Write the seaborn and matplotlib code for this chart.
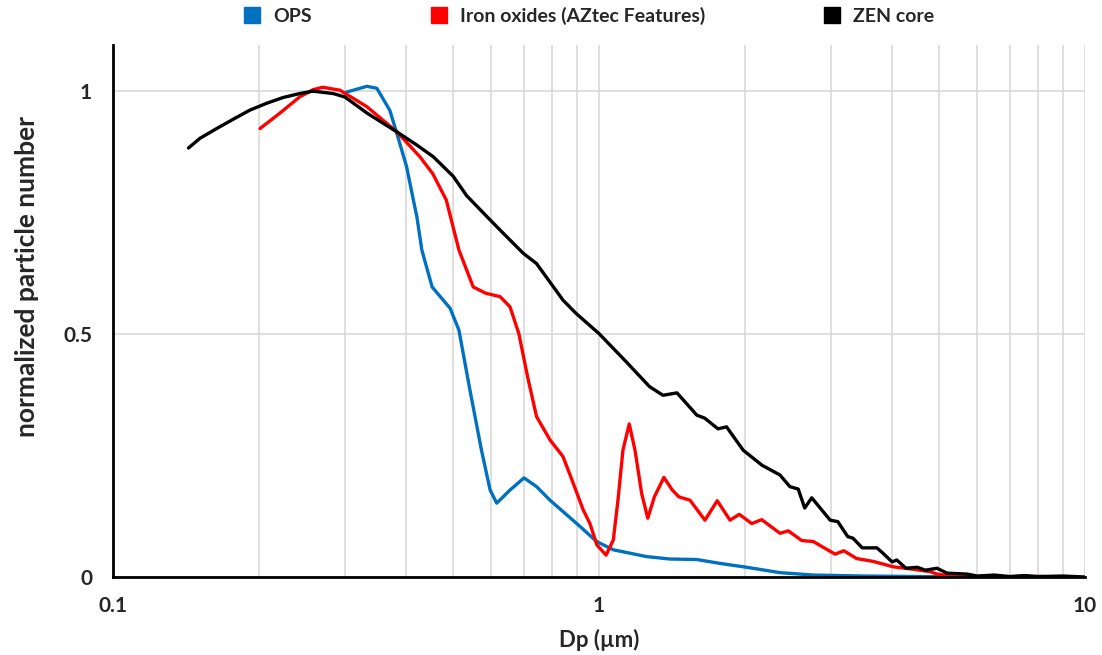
import numpy as np
import pandas as pd
import matplotlib
matplotlib.use("Agg")
import matplotlib.pyplot as plt
import seaborn as sns
from matplotlib.lines import Line2D
from matplotlib.ticker import LogLocator, NullFormatter, FixedLocator

# ---------------- data ----------------
ops_x = [0.300, 0.333, 0.349, 0.371, 0.383, 0.402, 0.415, 0.422, 0.432, 0.4535,
         0.494, 0.515, 0.5425, 0.573, 0.597, 0.616, 0.656, 0.701, 0.744, 0.793,
         0.914, 0.989, 1.070, 1.253, 1.400, 1.589, 1.774, 2.013, 2.357, 2.760,
         3.500, 4.500, 6.000]
ops_y = [0.997, 1.010, 1.006, 0.961, 0.916, 0.844, 0.776, 0.741, 0.673, 0.597,
         0.553, 0.508, 0.385, 0.261, 0.179, 0.152, 0.179, 0.204, 0.186, 0.158,
         0.104, 0.073, 0.056, 0.042, 0.037, 0.036, 0.028, 0.020, 0.009, 0.004,
         0.002, 0.001, 0.000]

iron_x = [0.2007, 0.220, 0.242, 0.258, 0.270, 0.293, 0.333, 0.384, 0.428, 0.455,
          0.485, 0.515, 0.551, 0.585, 0.626, 0.656, 0.684, 0.713, 0.744, 0.793,
          0.843, 0.885, 0.928, 0.958, 0.990, 1.034, 1.070, 1.094, 1.120, 1.154,
          1.186, 1.224, 1.260, 1.300, 1.360, 1.415, 1.460, 1.539, 1.652, 1.751,
          1.860, 1.944, 2.062, 2.162, 2.357, 2.452, 2.613, 2.760, 3.060, 3.190,
          3.390, 3.670, 4.030, 4.430, 4.800, 4.960, 5.270, 6.000, 7.000, 8.000,
          9.000]
iron_y = [0.923, 0.954, 0.988, 1.003, 1.008, 1.002, 0.968, 0.916, 0.865, 0.830,
          0.776, 0.673, 0.597, 0.584, 0.577, 0.556, 0.501, 0.412, 0.330, 0.282,
          0.248, 0.193, 0.138, 0.110, 0.066, 0.045, 0.076, 0.158, 0.261, 0.315,
          0.261, 0.172, 0.121, 0.165, 0.205, 0.179, 0.165, 0.158, 0.117, 0.157,
          0.117, 0.129, 0.110, 0.118, 0.090, 0.095, 0.075, 0.073, 0.047, 0.054,
          0.038, 0.032, 0.021, 0.016, 0.011, 0.006, 0.002, 0.001, 0.000, 0.001,
          0.000]

zen_x = [0.143, 0.151, 0.1634, 0.1766, 0.1913, 0.207, 0.224, 0.242, 0.258, 0.284,
         0.300, 0.333, 0.384, 0.422, 0.456, 0.501, 0.534, 0.597, 0.626, 0.699,
         0.744, 0.843, 0.896, 1.000, 1.130, 1.270, 1.354, 1.447, 1.590, 1.650,
         1.757, 1.830, 1.980, 2.165, 2.357, 2.470, 2.570, 2.650, 2.740, 2.990,
         3.100, 3.250, 3.330, 3.480, 3.730, 3.830, 4.010, 4.100, 4.280, 4.520,
         4.690, 4.960, 5.200, 5.720, 6.000, 6.500, 7.000, 7.500, 8.000, 9.000,
         10.000]
zen_y = [0.883, 0.903, 0.923, 0.942, 0.961, 0.975, 0.987, 0.995, 1.000, 0.995,
         0.988, 0.955, 0.916, 0.889, 0.865, 0.825, 0.785, 0.735, 0.714, 0.666,
         0.645, 0.570, 0.543, 0.501, 0.446, 0.392, 0.374, 0.379, 0.333, 0.327,
         0.305, 0.309, 0.261, 0.230, 0.210, 0.186, 0.181, 0.142, 0.163, 0.117,
         0.114, 0.083, 0.080, 0.060, 0.060, 0.050, 0.031, 0.035, 0.018, 0.020,
         0.014, 0.018, 0.008, 0.006, 0.002, 0.004, 0.001, 0.003, 0.001, 0.002,
         0.000]

series_names = ["OPS", "Iron oxides (AZtec Features)", "ZEN core"]
series_colors = ["#0070C0", "#FF0000", "#000000"]

x_tick_vals = [0.1, 1, 10]
x_tick_labels = ["0.1", "1", "10"]
y_tick_vals = [0, 0.5, 1]
y_tick_labels = ["0", "0.5", "1"]

# ---------------- build table ----------------
df = pd.concat([
    pd.DataFrame({"Dp": ops_x, "N": ops_y, "series": series_names[0]}),
    pd.DataFrame({"Dp": iron_x, "N": iron_y, "series": series_names[1]}),
    pd.DataFrame({"Dp": zen_x, "N": zen_y, "series": series_names[2]}),
], ignore_index=True)

sns.set_theme(style="white")
plt.rcParams["font.family"] = ["Lato", "DejaVu Sans"]
plt.rcParams["font.weight"] = "bold"

fig = plt.figure(figsize=(11.02, 6.55), dpi=100)
ax = fig.add_axes([113 / 1102, 1 - 577 / 655, (1085 - 113) / 1102, (577 - 45) / 655])

palette = dict(zip(series_names, series_colors))
sns.lineplot(data=df, x="Dp", y="N", hue="series", hue_order=series_names,
             palette=palette, sort=False, estimator=None, linewidth=2.4,
             ax=ax, legend=False)
for ln in ax.get_lines():
    ln.set_solid_joinstyle("round")
    ln.set_solid_capstyle("round")

ax.set_xscale("log")
ax.set_xlim(0.1, 10)
ax.set_ylim(0, 1.095)

ax.xaxis.set_major_locator(FixedLocator(x_tick_vals))
ax.set_xticklabels(x_tick_labels)
ax.xaxis.set_minor_locator(LogLocator(base=10, subs=np.arange(2, 10)))
ax.xaxis.set_minor_formatter(NullFormatter())
ax.set_yticks(y_tick_vals)
ax.set_yticklabels(y_tick_labels)
ax.grid(True, which="both", axis="x", color="#D9D9D9", linewidth=1.2)
ax.grid(True, which="major", axis="y", color="#D9D9D9", linewidth=1.2)
ax.set_axisbelow(True)

for s in ["top", "right"]:
    ax.spines[s].set_visible(False)
for s in ["left", "bottom"]:
    ax.spines[s].set_color("black")
    ax.spines[s].set_linewidth(2.0)

ax.tick_params(axis="x", which="both", direction="in", length=6, width=1.5,
               color="black", pad=14, labelsize=15)
ax.tick_params(axis="y", which="major", direction="out", length=6, width=1.5,
               color="black", pad=9, labelsize=15)
for lbl in ax.get_xticklabels() + ax.get_yticklabels():
    lbl.set_fontweight("bold")

ax.set_xlabel("Dp (µm)", fontsize=16, fontweight="bold")
ax.xaxis.set_label_coords(0.5, -0.097)
ax.set_ylabel("normalized particle number", fontsize=19, fontweight="bold")
ax.yaxis.set_label_coords(-0.076, 0.564)

handles = [Line2D([], [], marker="s", color=c, linestyle="none", markersize=12)
           for c in series_colors]
fig.legend(handles, series_names, loc="center", bbox_to_anchor=(0.534, 0.976),
           ncol=3, frameon=False, columnspacing=6.0, handletextpad=0.6,
           handlelength=1.0, prop={"size": 14, "weight": "bold"})

fig.savefig("out.png", dpi=100)
